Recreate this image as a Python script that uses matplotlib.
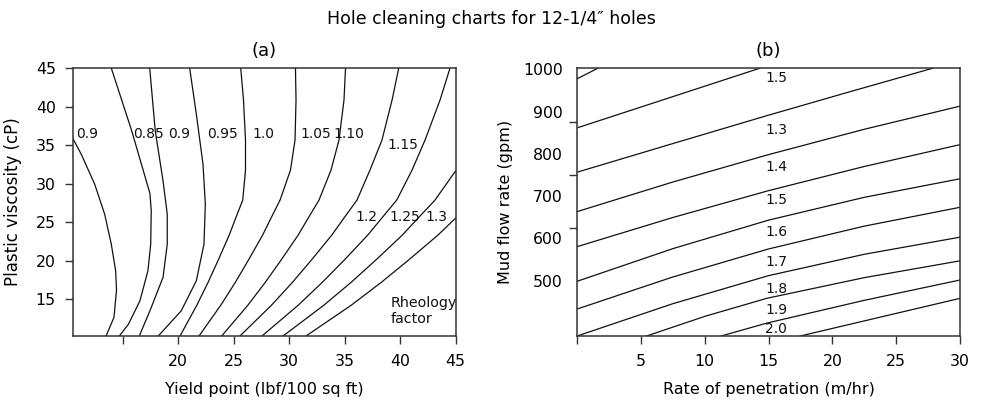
import numpy as np
import matplotlib.pyplot as plt

# -----------------------------
# (a) rheology factor curves: yield point (x) vs plastic viscosity (y)
# -----------------------------
rf_labels = ["0.9", "0.85", "0.9", "0.95", "1.0", "1.05", "1.10", "1.15", "1.2", "1.25", "1.3"]

yv_common = [45, 40.84, 35.65, 31.75, 27.86, 25.65, 23.31, 20.06, 17.21, 14.22, 10.2]

a_x = [10.5, 11.27, 12.48, 13.38, 13.98, 14.37, 14.45, 14.22, 13.50]
a_y = [35.91, 33.83, 29.94, 26.04, 22.14, 18.68, 16.17, 12.62, 10.2]
b_x = [13.98, 15.80, 17.46, 17.58, 17.53, 17.28, 16.56, 15.53, 14.70]
b_y = [45, 36.95, 28.73, 26.47, 22.14, 18.68, 14.78, 11.75, 10.2]
c_x = [17.44, 17.94, 18.64, 19.02, 19.02, 18.64, 17.46, 16.50]
c_y = [45, 36.86, 30.36, 26.04, 22.14, 17.82, 13.48, 10.2]
d_x = [21.04, 21.64, 22.24, 22.45, 22.33, 21.64, 20.28, 18.21]
d_y = [45, 39.03, 32.53, 27.34, 22.14, 17.38, 13.48, 10.2]
e_x = [25.64, 25.89, 26.07, 26.07, 25.82, 25.22, 24.60, 23.61, 22.71, 21.69, 20.17]
f_x = [30.57, 30.62, 30.53, 30.12, 29.18, 28.41, 27.61, 26.33, 25.17, 23.85, 21.88]
g_x = [35.08, 34.94, 34.49, 33.77, 32.69, 31.77, 30.81, 29.27, 27.87, 26.29, 23.92]
h_x = [39.87, 39.27, 38.36, 37.28, 36.11, 35.00, 33.84, 32.00, 30.32, 28.42, 25.57]
i_x = [44.49, 43.59, 42.24, 41.07, 39.69, 38.42, 37.08, 34.96, 33.01, 30.83, 27.55]
j_x = [45.0, 43.14, 41.70, 40.19, 37.80, 35.61, 33.14, 29.45]
j_y = [31.66, 27.86, 25.65, 23.31, 20.06, 17.21, 14.22, 10.2]
k_x = [45.0, 43.40, 40.75, 38.33, 35.61, 31.52]
k_y = [25.52, 23.31, 20.06, 17.21, 14.22, 10.2]

# label anchor points (left edge, centre)
rf_lab_x = [10.80, 15.93, 19.09, 22.60, 26.65, 30.98, 33.99, 38.82, 35.93, 39.0, 42.24]
rf_lab_y = [36.43, 36.43, 36.43, 36.43, 36.43, 36.43, 36.43, 35.0, 25.65, 25.65, 25.65]

# -----------------------------
# (b) ROP (x) vs mud flow rate (y)
# -----------------------------
l1_x = [0, 1.64];                       l1_y = [977.7, 1003]
l2_x = [0, 14.33];                      l2_y = [861.6, 1003]
l3_x = [0, 7.5, 14.88, 21, 27.88];      l3_y = [756.7, 824.5, 890.7, 944, 1003]
l4_x = [0, 7.5, 15, 22.5, 30];          l4_y = [663.4, 733.5, 798.4, 858.4, 913.1]
l5_x = [0, 7.5, 15, 22.5, 30];          l5_y = [580.5, 649.5, 713.1, 770.3, 822.0]
l6_x = [0, 7.5, 15, 22.5, 30];          l6_y = [498.5, 575.8, 643.3, 697.3, 741.2]
l7_x = [0, 7.5, 15, 22.5, 30];          l7_y = [432.9, 508.7, 575.1, 629.1, 673.7]
l8_x = [0, 7.5, 15, 22.5, 30];          l8_y = [369, 445.5, 511.9, 562.5, 603.0]
l9_x = [5.44, 10, 14.88, 22.5, 30];     l9_y = [369, 415.5, 458.4, 507.2, 547.0]
l10_x = [11.28, 14.88, 22.5, 30];       l10_y = [369, 399.7, 453.5, 501.6]
l11_x = [17.47, 30];                    l11_y = [369, 458.2]

rop_labels = ["1.5", "1.3", "1.4", "1.5", "1.6", "1.7", "1.8", "1.9", "2.0"]
rop_lab_y = [979.3, 856.9, 769.9, 691, 616, 545, 479.6, 430.5, 384.8]
rop_lab_x = 14.73

# -----------------------------
# Figure
# -----------------------------
fig = plt.figure(figsize=(9.82, 4.01), dpi=100)
ax1 = fig.add_axes([0.074, 0.162, 0.390, 0.668])
ax2 = fig.add_axes([0.5876, 0.162, 0.390, 0.668])

lc = '#111111'
lw = 0.9
tick_fs = 11.3
lab_fs = 11.5
cl_fs = 10

curves_a = [(a_x, a_y), (b_x, b_y), (c_x, c_y), (d_x, d_y),
            (e_x, yv_common), (f_x, yv_common), (g_x, yv_common),
            (h_x, yv_common), (i_x, yv_common), (j_x, j_y), (k_x, k_y)]
for cx, cy in curves_a:
    ax1.plot(cx, cy, color=lc, lw=lw, solid_joinstyle='round')
for t, x, y in zip(rf_labels, rf_lab_x, rf_lab_y):
    ax1.text(x, y, t, fontsize=cl_fs, ha='left', va='center', color=lc)
ax1.text(39.11, 13.44, "Rheology\nfactor", fontsize=10.3, ha='left', va='center',
         color=lc, linespacing=1.15)

ax1.set_xlim(10.5, 45)
ax1.set_ylim(10.2, 45)
ax1.set_xticks([15, 20, 25, 30, 35, 40, 45])
ax1.set_xticklabels(["", "20", "25", "30", "35", "40", "45"])
ax1.set_yticks([15, 20, 25, 30, 35, 40, 45])
ax1.set_xlabel("Yield point (lbf/100 sq ft)", fontsize=lab_fs)
ax1.set_ylabel("Plastic viscosity (cP)", fontsize=12)
ax1.xaxis.set_label_coords(0.5, -0.172)
ax1.yaxis.set_label_coords(-0.132, 0.5)
ax1.set_title("(a)", fontsize=13, pad=9)

curves_b = [(l1_x, l1_y), (l2_x, l2_y), (l3_x, l3_y), (l4_x, l4_y), (l5_x, l5_y),
            (l6_x, l6_y), (l7_x, l7_y), (l8_x, l8_y), (l9_x, l9_y),
            (l10_x, l10_y), (l11_x, l11_y)]
for cx, cy in curves_b:
    ax2.plot(cx, cy, color=lc, lw=lw, solid_joinstyle='round')
for t, y in zip(rop_labels, rop_lab_y):
    ax2.text(rop_lab_x, y, t, fontsize=cl_fs, ha='left', va='center', color=lc)

ax2.set_xlim(0, 30)
ax2.set_ylim(369, 1003)
ax2.set_xticks([0, 5, 10, 15, 20, 25, 30])
ax2.set_xticklabels(["", "5", "10", "15", "20", "25", "30"])
ax2.set_yticks([500, 600, 700, 800, 900, 1000])
ax2.set_yticks([500, 625, 750, 875, 1000], minor=True)
ax2.tick_params(axis='y', which='major', length=0, pad=10.3)
ax2.tick_params(axis='y', which='minor', length=5.7, width=1.0, color='#333333')
ax2.set_xlabel("Rate of penetration (m/hr)", fontsize=lab_fs)
ax2.set_ylabel("Mud flow rate (gpm)", fontsize=lab_fs)
ax2.xaxis.set_label_coords(0.5, -0.172)
ax2.yaxis.set_label_coords(-0.167, 0.5)
ax2.set_title("(b)", fontsize=13, pad=9)

for ax in (ax1, ax2):
    for s in ax.spines.values():
        s.set_linewidth(1.1)
        s.set_color('#333333')
    ax.tick_params(axis='x', which='major', length=5.7, width=1.0, pad=7,
                   labelsize=tick_fs, color='#333333')
    ax.tick_params(axis='y', labelsize=tick_fs)
ax1.tick_params(axis='y', which='major', length=5.7, width=1.0, pad=6.5, color='#333333')

fig.suptitle("Hole cleaning charts for 12-1/4\u2033 holes", fontsize=12.5, y=0.975)

plt.savefig("out.png", dpi=100)
